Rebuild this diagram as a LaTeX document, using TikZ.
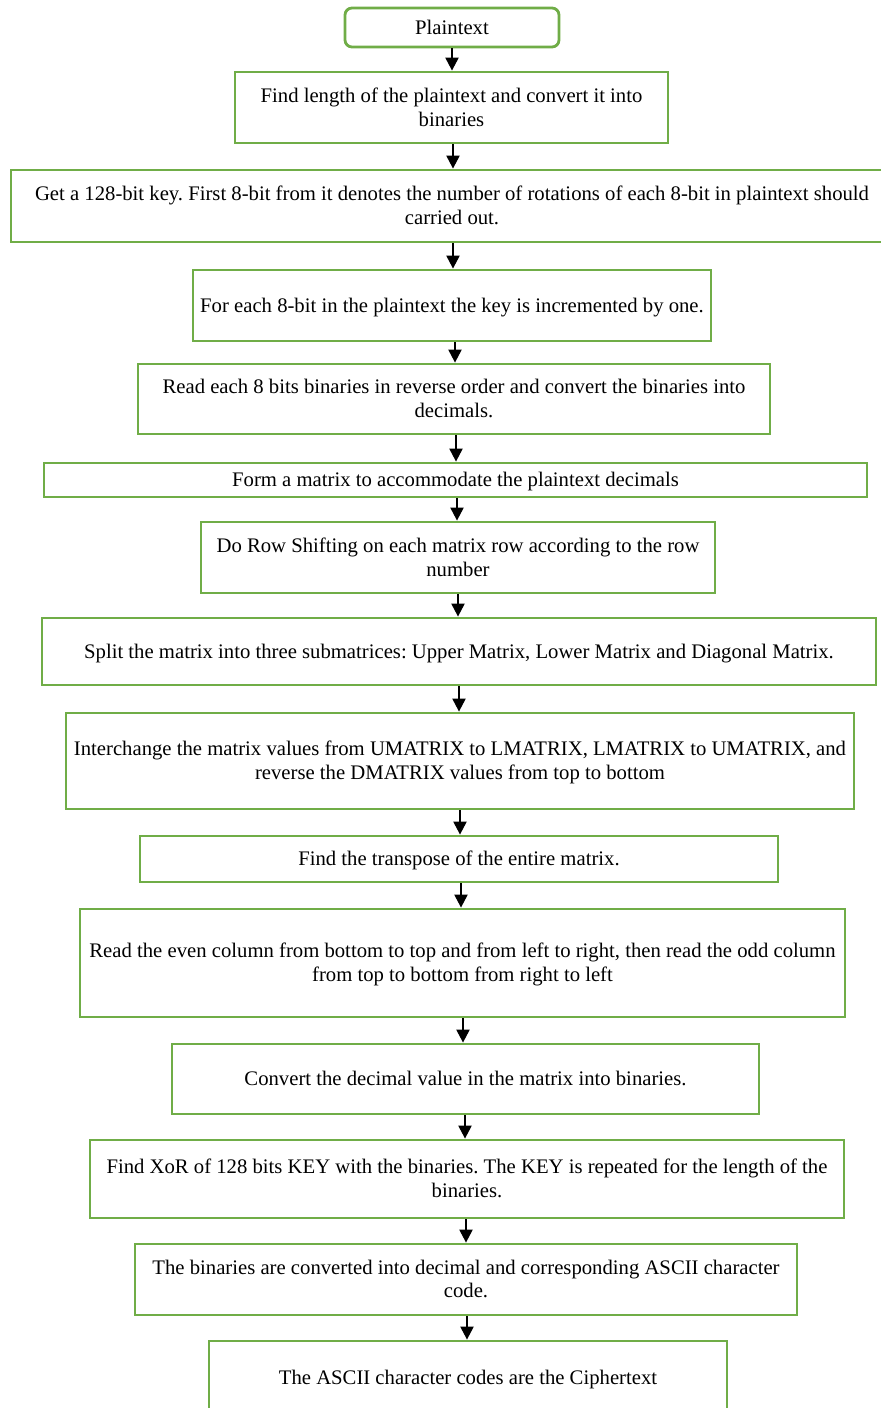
\documentclass[tikz,border=0pt]{standalone}
\usepackage{fontspec}
\setmainfont{Liberation Serif}
\usetikzlibrary{arrows.meta}
\definecolor{boxgreen}{RGB}{112,173,71}
\begin{document}
\frenchspacing
\begin{tikzpicture}[x=0.5pt,y=-0.5pt,
  box/.style={draw=boxgreen, line width=1.4pt, rectangle, inner sep=0pt, align=center,
    font=\fontsize{10.35}{11.9}\selectfont, fill=white, text depth=0.6pt},
  arr/.style={draw=black, line width=1.1pt, -{Triangle[width=6.5pt,length=6.5pt]}}]
\useasboundingbox (0,0) rectangle (880,1408);
\node[box, rounded corners=3.5pt, minimum width=107pt, minimum height=19.5pt] (n1) at (452,27.5) {Plaintext};
\node[box, minimum width=216.5pt, minimum height=35.5pt] (n2) at (451.5,107.5) {Find length of the plaintext and convert it into\\binaries};
\node[box, minimum width=441pt, minimum height=36pt] (n3) at (452,206) {Get a 128-bit key. First 8-bit from it denotes the number of rotations of each 8-bit in plaintext should\\carried out.};
\node[box, minimum width=259pt, minimum height=35.5pt] (n4) at (452,305.5) {For each 8-bit in the plaintext the key is incremented by one.};
\node[box, minimum width=316pt, minimum height=35pt] (n5) at (454,399) {Read each 8 bits binaries in reverse order and convert the binaries into\\decimals.};
\node[box, minimum width=411.5pt, minimum height=17pt] (n6) at (455.5,480) {Form a matrix to accommodate the plaintext decimals};
\node[box, minimum width=257pt, minimum height=35.5pt] (n7) at (458,557.5) {Do Row Shifting on each matrix row according to the row\\number};
\node[box, minimum width=417pt, minimum height=33.5pt] (n8) at (459,651.5) {Split the matrix into three submatrices: Upper Matrix, Lower Matrix and Diagonal Matrix.};
\node[box, minimum width=394pt, minimum height=48pt] (n9) at (460,761) {Interchange the matrix values from UMATRIX to LMATRIX, LMATRIX to UMATRIX, and\\reverse the DMATRIX values from top to bottom};
\node[box, minimum width=319pt, minimum height=23pt] (n10) at (459,859) {Find the transpose of the entire matrix.};
\node[box, minimum width=382.5pt, minimum height=54pt] (n11) at (462.5,963) {Read the even column from bottom to top and from left to right, then read the odd column\\from top to bottom from right to left};
\node[box, minimum width=293.5pt, minimum height=35pt] (n12) at (465.5,1079) {Convert the decimal value in the matrix into binaries.};
\node[box, minimum width=377pt, minimum height=39pt] (n13) at (467,1179) {Find XoR of 128 bits KEY with the binaries. The KEY is repeated for the length of the\\binaries.};
\node[box, minimum width=331pt, minimum height=35.5pt] (n14) at (466,1279.5) {The binaries are converted into decimal and corresponding ASCII character\\code.};
\node[box, minimum width=259pt, minimum height=37pt] (n15) at (468,1378) {The ASCII character codes are the Ciphertext};
\draw[arr] (n1.south -| 452,0) -- (n2.north -| 452,0);
\draw[arr] (n2.south -| 453,0) -- (n3.north -| 453,0);
\draw[arr] (n3.south -| 453,0) -- (n4.north -| 453,0);
\draw[arr] (n4.south -| 455,0) -- (n5.north -| 455,0);
\draw[arr] (n5.south -| 456,0) -- (n6.north -| 456,0);
\draw[arr] (n6.south -| 457,0) -- (n7.north -| 457,0);
\draw[arr] (n7.south -| 458,0) -- (n8.north -| 458,0);
\draw[arr] (n8.south -| 459,0) -- (n9.north -| 459,0);
\draw[arr] (n9.south -| 460,0) -- (n10.north -| 460,0);
\draw[arr] (n10.south -| 461,0) -- (n11.north -| 461,0);
\draw[arr] (n11.south -| 463,0) -- (n12.north -| 463,0);
\draw[arr] (n12.south -| 465,0) -- (n13.north -| 465,0);
\draw[arr] (n13.south -| 466,0) -- (n14.north -| 466,0);
\draw[arr] (n14.south -| 467,0) -- (n15.north -| 467,0);
\end{tikzpicture}
\end{document}
